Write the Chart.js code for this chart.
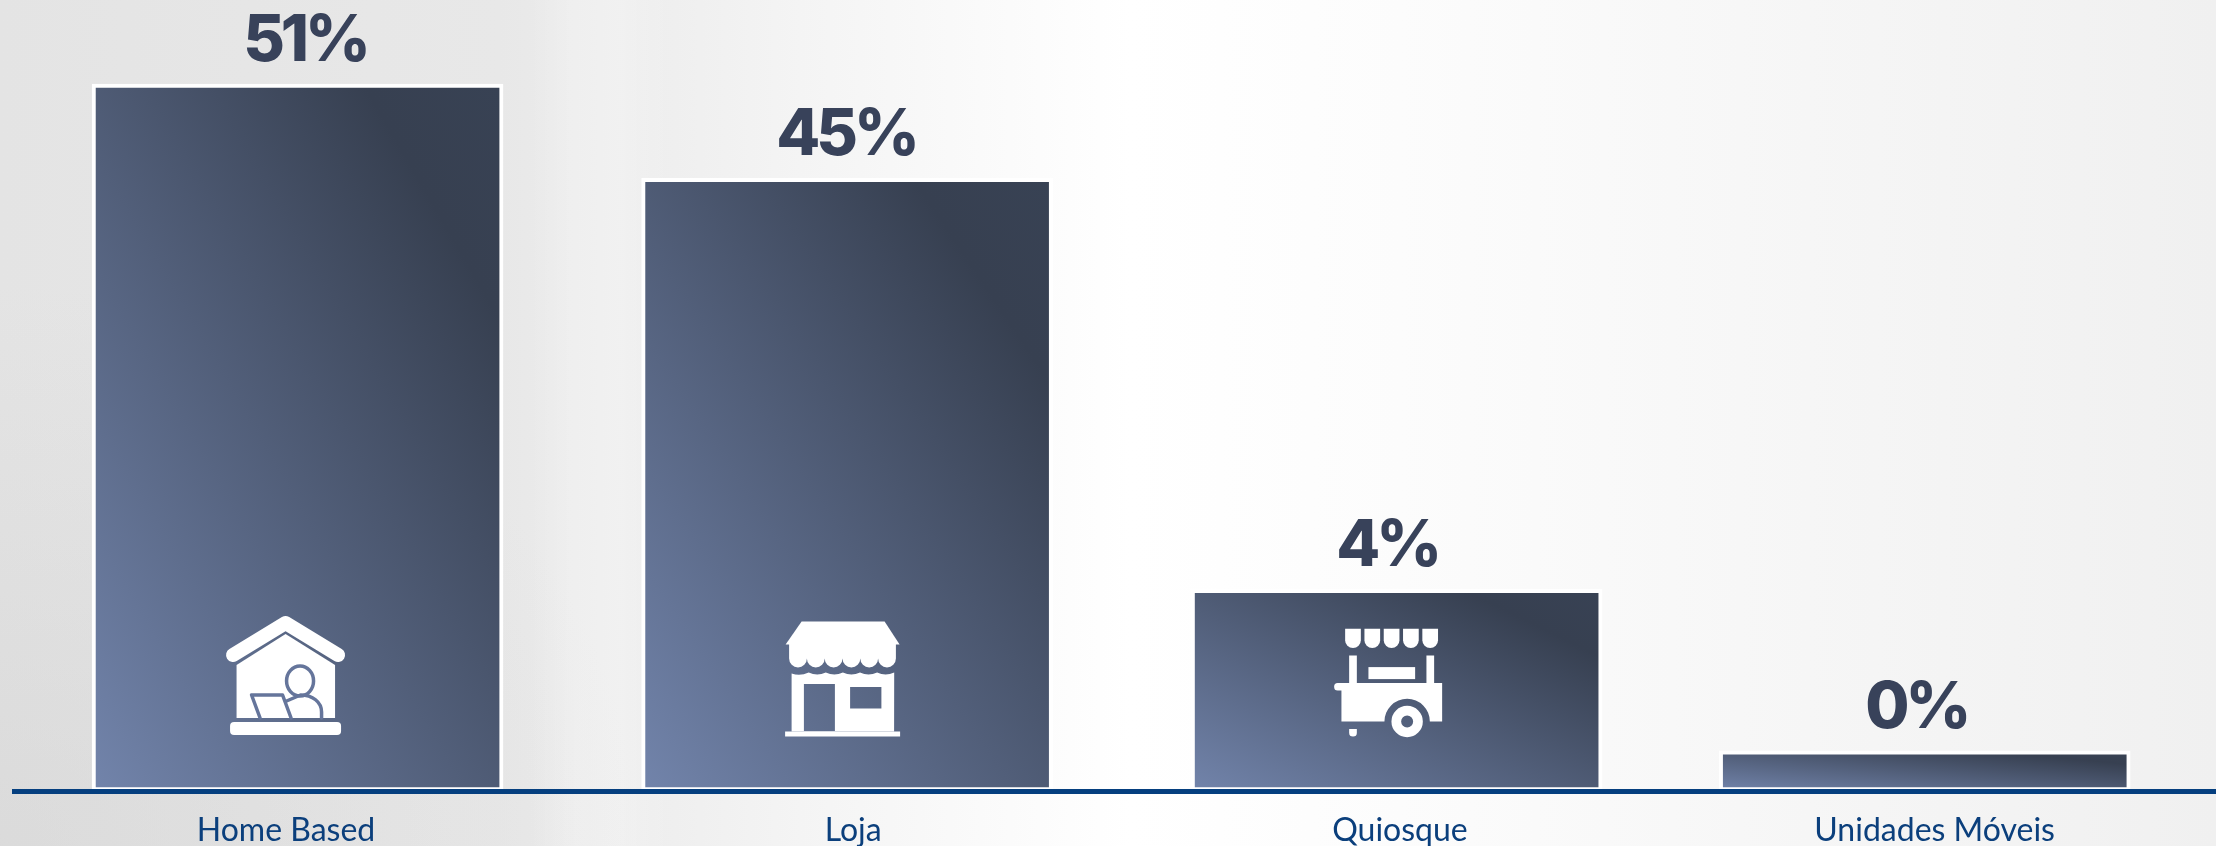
<!DOCTYPE html>
<html>
<head>
<meta charset="utf-8">
<title>Home Based, Loja, Quiosque, Unidades Móveis</title>
<script src="https://cdn.jsdelivr.net/npm/chart.js@4"></script>
<style>
    html, body { margin: 0; padding: 0; width: 2216px; height: 846px; overflow: hidden; }
    body {
        background:
            linear-gradient(90deg, rgba(255,255,255,0) 530px, rgba(255,255,255,0.22) 575px, rgba(255,255,255,0.22) 620px, rgba(255,255,255,0) 670px),
            radial-gradient(ellipse 640px 560px at 0 846px, rgba(205,205,205,0.4) 0, rgba(205,205,205,0) 100%),
            linear-gradient(90deg, #e4e4e4 0, #e8e8e8 500px, #f4f4f4 800px, #ffffff 1130px, #fcfcfc 1400px, #f0f0f0 2216px);
    }
    canvas { display: block; }
</style>
</head>
<body>
<canvas id="barChart" width="2216" height="846"></canvas>
<script>
// ========== DATA ==========
const categories = ['Home Based', 'Loja', 'Quiosque', 'Unidades Móveis'];
const valueLabels = ['51%', '45%', '4%', '0%'];
// bar heights as drawn: the picture does not scale them to the printed percentages
const barValues = [51, 44.2, 14.54, 2.89];
// the bars and their captions are not evenly spaced in the picture
const barSlots = [0, 1, 2, 2.961];
const tickSlots = [-0.021, 1.011, 2.006, 2.979];
const valueLabelShift = [7.5, -1, -9.5, -8.5];

const TICK_COLOR = '#0b3f7c';
const AXIS_COLOR = '#053f7f';
const VALUE_COLOR = '#38425a';

// ========== BAR GRADIENT ==========
// iso-lines run along the bar's top-left to bottom-right diagonal
function barGradient(context) {
    const chart = context.chart;
    const i = context.dataIndex;
    if (!chart.chartArea || i === undefined) return '#4d5a75';
    const thickness = context.dataset.barThickness;
    const x0 = chart.scales.x.getPixelForValue(barSlots[i]) - thickness / 2;
    const y1 = chart.scales.y.getPixelForValue(0);
    const w = thickness;
    const h = y1 - chart.scales.y.getPixelForValue(barValues[i]);
    const k = 2 * w * h / (w * w + h * h);
    const g = chart.ctx.createLinearGradient(x0, y1, x0 + h * k, y1 - w * k);
    g.addColorStop(0, '#7284ab');
    g.addColorStop(0.83, '#374051');
    g.addColorStop(1, '#384254');
    return g;
}

// ========== ICONS ==========
const ICON_CUT = '#65759b';

function drawHouse(ctx) {
    ctx.strokeStyle = '#fff';
    ctx.lineWidth = 14;
    ctx.lineCap = 'round';
    ctx.lineJoin = 'round';
    ctx.beginPath();
    ctx.moveTo(-52.5, -80);
    ctx.lineTo(0, -112);
    ctx.lineTo(52.5, -80);
    ctx.stroke();

    ctx.beginPath();
    ctx.moveTo(-49, -70);
    ctx.lineTo(0, -101);
    ctx.lineTo(49.5, -70);
    ctx.lineTo(49.5, -17);
    ctx.lineTo(-49, -17);
    ctx.closePath();
    ctx.fill();

    ctx.beginPath();
    ctx.roundRect(-55.5, -13, 111, 13, 4);
    ctx.fill();

    ctx.strokeStyle = ICON_CUT;
    ctx.lineWidth = 3.5;
    ctx.beginPath();
    ctx.ellipse(14.5, -54, 13.5, 15, 0, 0, Math.PI * 2);
    ctx.stroke();

    ctx.beginPath();
    ctx.moveTo(36, -17);
    ctx.lineTo(36, -23);
    ctx.bezierCurveTo(36, -33, 27, -40, 15, -40);
    ctx.lineTo(1, -34);
    ctx.stroke();

    ctx.beginPath();
    ctx.moveTo(-25.5, -17);
    ctx.lineTo(-34, -40);
    ctx.lineTo(-3, -40);
    ctx.lineTo(5.5, -17);
    ctx.stroke();
}

function drawShop(ctx) {
    ctx.beginPath();
    ctx.moveTo(-41, -115);
    ctx.lineTo(42, -115);
    ctx.lineTo(57, -92);
    ctx.lineTo(-57, -92);
    ctx.closePath();
    ctx.fill();

    // scalloped valance
    const left = -53.5;
    const step = 17.8;
    ctx.beginPath();
    ctx.moveTo(left, -93);
    ctx.lineTo(left + step * 6, -93);
    ctx.lineTo(left + step * 6, -78);
    for (let n = 5; n >= 0; n--) {
        ctx.arc(left + step * n + step / 2, -78, step / 2, 0, Math.PI);
    }
    ctx.closePath();
    ctx.fill();

    // front with door and window cut out
    const front = new Path2D();
    front.moveTo(-51, -63);
    for (let n = 0; n < 6; n++) {
        front.quadraticCurveTo(-51 + 17.1 * n + 8.5, -60, -51 + 17.1 * (n + 1), -64);
    }
    front.lineTo(51.5, -5);
    front.lineTo(-51, -5);
    front.closePath();
    front.rect(-38.7, -52.5, 31, 47);
    front.rect(7.5, -49.5, 31.3, 21.5);
    ctx.fill(front, 'evenodd');

    ctx.fillRect(-57.5, -5, 115, 5);
}

function drawCart(ctx) {
    for (let n = 0; n < 5; n++) {
        ctx.beginPath();
        const x = -43 + 19.3 * n;
        ctx.moveTo(x, -107.7);
        ctx.lineTo(x + 15.7, -107.7);
        ctx.lineTo(x + 15.7, -96.3);
        ctx.arc(x + 7.85, -96.3, 7.85, 0, Math.PI);
        ctx.closePath();
        ctx.fill();
    }
    ctx.fillRect(-39, -81, 7.7, 28);
    ctx.fillRect(38.3, -81, 7.7, 28);
    ctx.fillRect(-19.7, -69.4, 46.7, 12);

    const body = new Path2D();
    body.moveTo(-46.7, -53.4);
    body.lineTo(54, -53.4);
    body.lineTo(54, -15);
    body.lineTo(41.7, -15);
    body.arc(19, -15, 22.7, 0, Math.PI, true);
    body.lineTo(-46.7, -15);
    body.closePath();
    ctx.fill(body);

    ctx.beginPath();
    ctx.roundRect(-54, -53.4, 12, 7.4, 3.5);
    ctx.fill();

    const wheel = new Path2D();
    wheel.arc(19, -15, 15.7, 0, Math.PI * 2);
    wheel.moveTo(25, -15);
    wheel.arc(19, -15, 6, 0, Math.PI * 2);
    ctx.fill(wheel, 'evenodd');

    ctx.beginPath();
    ctx.moveTo(-39, -7.4);
    ctx.lineTo(-31.3, -7.4);
    ctx.lineTo(-31.3, -3.8);
    ctx.arc(-35.15, -3.8, 3.85, 0, Math.PI);
    ctx.closePath();
    ctx.fill();
}

const barIcons = [
    { draw: drawHouse, dx: -12, dy: -56 },
    { draw: drawShop, dx: -4.5, dy: -54.5 },
    { draw: drawCart, dx: -8.5, dy: -54.5 }
];

// ========== PLUGIN: VALUE LABELS AND ICONS ==========
const barDecorations = {
    id: 'barDecorations',
    afterDatasetsDraw(chart) {
        const ctx = chart.ctx;
        const bars = chart.getDatasetMeta(0).data;

        bars.forEach((bar, i) => {
            ctx.save();
            ctx.font = '800 64px Inter';
            ctx.letterSpacing = '-4px';
            ctx.fillStyle = VALUE_COLOR;
            ctx.textAlign = 'center';
            ctx.textBaseline = 'alphabetic';
            ctx.fillText(valueLabels[i], bar.x + valueLabelShift[i], bar.y - 23);
            ctx.restore();

            const icon = barIcons[i];
            if (!icon) return;
            ctx.save();
            ctx.translate(bar.x + icon.dx, bar.base + icon.dy);
            ctx.fillStyle = '#fff';
            icon.draw(ctx);
            ctx.restore();
        });
    }
};

// ========== CHART ==========
new Chart(document.getElementById('barChart').getContext('2d'), {
    type: 'bar',
    data: {
        datasets: [{
            data: barValues.map((v, i) => ({ x: barSlots[i], y: v })),
            backgroundColor: barGradient,
            borderColor: '#ffffff',
            borderWidth: 4,
            borderSkipped: false,
            barThickness: 411
        }]
    },
    options: {
        responsive: false,
        animation: false,
        layout: { padding: { left: 14, right: 0, top: 0, bottom: 0 } },
        plugins: {
            legend: { display: false },
            tooltip: { enabled: false }
        },
        scales: {
            x: {
                type: 'linear',
                offset: false,
                min: -0.516,
                max: 3.491,
                afterBuildTicks: axis => { axis.ticks = tickSlots.map(value => ({ value })); },
                afterFit: axis => { axis.height = 55; },
                grid: { display: false, drawTicks: false, offset: false },
                border: { display: true, color: AXIS_COLOR, width: 5, z: 1 },
                ticks: {
                    autoSkip: false,
                    maxRotation: 0,
                    padding: 20,
                    color: TICK_COLOR,
                    font: { family: 'Lato', size: 32 },
                    callback: (value, index) => categories[index]
                }
            },
            y: {
                display: false,
                min: 0,
                max: 57.06
            }
        }
    },
    plugins: [barDecorations]
});
</script>
</body>
</html>
